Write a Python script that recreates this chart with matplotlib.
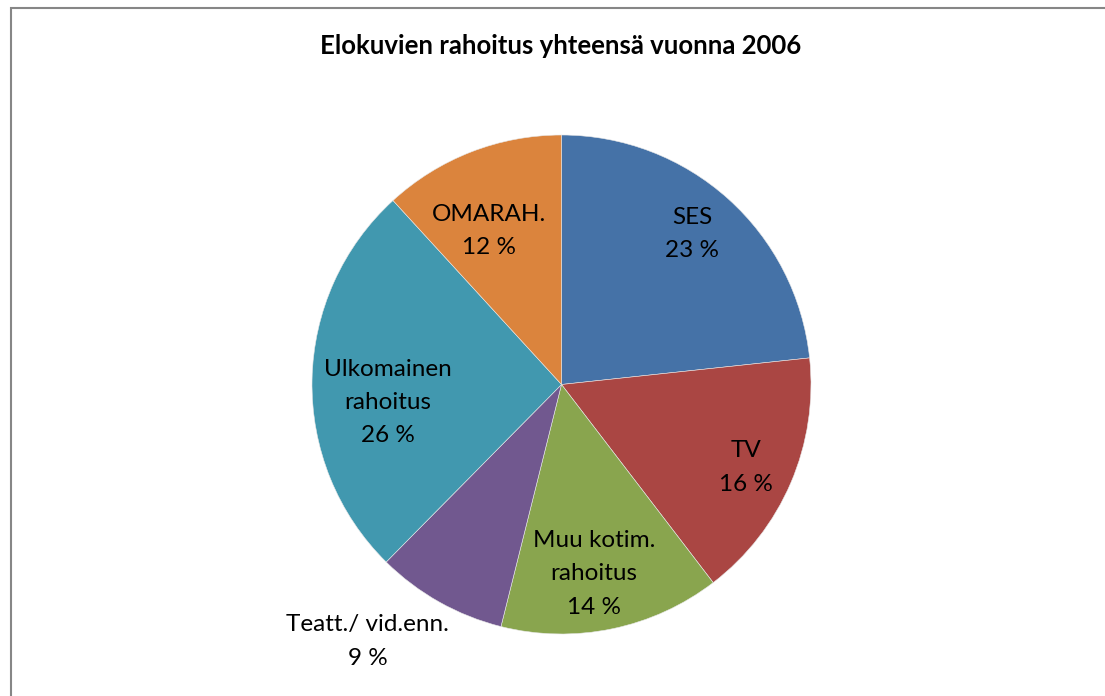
import matplotlib
matplotlib.use("Agg")
import matplotlib.pyplot as plt
from matplotlib.patches import Rectangle
import numpy as np

plt.rcParams['font.family'] = ['Lato', 'DejaVu Sans']

title = "Elokuvien rahoitus yhteensä vuonna 2006"
categories = ["SES", "TV", "Muu kotim.\nrahoitus", "Teatt./ vid.enn.",
              "Ulkomainen\nrahoitus", "OMARAH."]
values = [23.3, 16.3, 14.3, 8.5, 25.8, 11.8]
pct_labels = ["23 %", "16 %", "14 %", "9 %", "26 %", "12 %"]
colors = ["#4572A7", "#AA4643", "#89A54E", "#71588F", "#4198AF", "#DB843D"]

# label placement (radial distance, angular offset in degrees)
label_r = [0.80, 0.81, 0.77, 1.29, 0.70, 0.68]
label_dang = [1.0, -1.0, -2.0, -7.7, 7.0, 4.0]

W, H = 1105, 696
fig = plt.figure(figsize=(W / 100, H / 100), dpi=100)

# outer chart frame
fig.add_artist(Rectangle((10.5 / W, -0.1), 1.2, (H - 8.5) / H + 0.1,
                         transform=fig.transFigure, fill=False,
                         edgecolor="#868686", linewidth=1.5))

cx, cy, R = 561.5, 384.5, 249.5
ax = fig.add_axes([(cx - R) / W, (H - cy - R) / H, 2 * R / W, 2 * R / H])
wedges, _ = ax.pie(values, colors=colors, startangle=90, counterclock=False,
                   radius=1.0, wedgeprops=dict(edgecolor="#e8e8e8", linewidth=0.4))
ax.set_xlim(-1, 1)
ax.set_ylim(-1, 1)
ax.set_aspect("equal")
ax.axis("off")

for w, cat, pct, r, da in zip(wedges, categories, pct_labels, label_r, label_dang):
    ang = np.deg2rad((w.theta1 + w.theta2) / 2 + da)
    x, y = r * np.cos(ang), r * np.sin(ang)
    ax.text(x, y, cat + "\n" + pct, ha="center", va="center",
            fontsize=17.5, color="#000000", linespacing=1.72)

fig.text(561 / W, 1 - 46 / H, title, ha="center", va="center",
         fontsize=18.5, fontweight="bold", color="#000000")

fig.savefig("out.png", dpi=100)
